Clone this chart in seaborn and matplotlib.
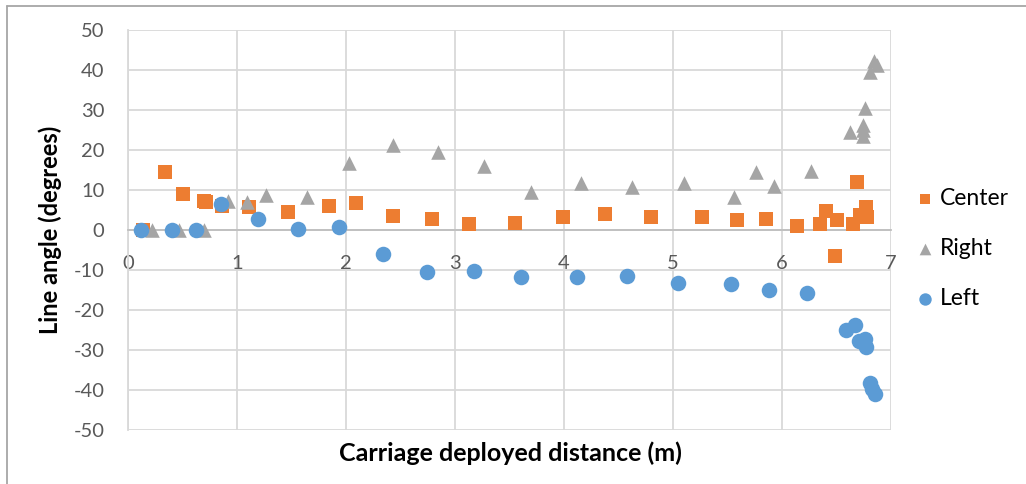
import matplotlib
matplotlib.use("Agg")
import matplotlib.pyplot as plt
import seaborn as sns
import pandas as pd
from matplotlib.lines import Line2D

center_x = [0.14, 0.34, 0.50, 0.70, 0.72, 0.86, 1.11, 1.47, 1.84, 2.09, 2.43, 2.79, 3.13,
            3.55, 3.99, 4.38, 4.80, 5.27, 5.59, 5.85, 6.14, 6.35, 6.40, 6.49, 6.50, 6.65,
            6.69, 6.72, 6.77, 6.78]
center_y = [0.0, 14.5, 9.0, 7.2, 7.0, 6.0, 5.7, 4.5, 6.0, 6.7, 3.5, 2.8, 1.5,
            1.8, 3.3, 4.0, 3.3, 3.3, 2.5, 2.7, 1.1, 1.5, 4.7, -6.5, 2.5, 1.5,
            12.0, 3.7, 5.7, 3.2]

right_x = [0.22, 0.47, 0.70, 0.92, 1.09, 1.27, 1.64, 2.03, 2.43, 2.84, 3.27, 3.70, 4.16,
           4.62, 5.10, 5.56, 5.76, 5.93, 6.27, 6.62, 6.74, 6.74, 6.74, 6.76, 6.81, 6.84, 6.87]
right_y = [0.0, 0.0, 0.0, 7.2, 7.0, 8.8, 8.3, 16.7, 21.2, 19.5, 16.0, 9.5, 11.7,
           10.8, 11.7, 8.3, 14.5, 11.0, 14.8, 24.5, 26.3, 23.5, 25.0, 30.5, 39.5, 42.2, 41.3]

left_x = [0.12, 0.40, 0.62, 0.85, 1.19, 1.56, 1.94, 2.34, 2.74, 3.17, 3.61, 4.12, 4.58,
          5.05, 5.53, 5.88, 6.23, 6.59, 6.67, 6.71, 6.76, 6.77, 6.81, 6.83, 6.85]
left_y = [0.0, 0.0, 0.0, 6.5, 2.7, 0.2, 0.7, -6.0, -10.5, -10.3, -11.7, -11.7, -11.5,
          -13.3, -13.5, -15.0, -15.8, -25.0, -23.8, -27.7, -27.3, -29.2, -38.3, -39.7, -41.0]

series_names = ["Center", "Right", "Left"]
colors = {"Center": "#ED7D31", "Right": "#A5A5A5", "Left": "#5B9BD5"}
markers = {"Center": "s", "Right": "^", "Left": "o"}
sizes = {"Center": 95, "Right": 110, "Left": 125}

x_ticks = [0, 1, 2, 3, 4, 5, 6, 7]
y_ticks = [-50, -40, -30, -20, -10, 0, 10, 20, 30, 40, 50]

df = pd.concat([
    pd.DataFrame({"x": center_x, "y": center_y, "series": "Center"}),
    pd.DataFrame({"x": right_x, "y": right_y, "series": "Right"}),
    pd.DataFrame({"x": left_x, "y": left_y, "series": "Left"}),
], ignore_index=True)

sns.set_theme(style="white")
plt.rcParams["font.family"] = ["Lato", "DejaVu Sans"]

fig = plt.figure(figsize=(10.26, 4.84), dpi=100)
ax = fig.add_axes([128 / 1026, 1 - 430 / 484, (891 - 128) / 1026, 400 / 484])

for name in series_names:
    sub = df[df["series"] == name]
    sns.scatterplot(data=sub, x="x", y="y", ax=ax, color=colors[name], marker=markers[name],
                    s=sizes[name], linewidth=0, label=name, zorder=3)

ax.set_xlim(0, 7)
ax.set_ylim(-50, 50)
ax.set_xticks(x_ticks)
ax.set_yticks(y_ticks)
ax.set_xticklabels([str(t) for t in x_ticks])
ax.set_yticklabels([str(t) for t in y_ticks])
ax.grid(True, color="#d9d9d9", linewidth=1.3, zorder=0)
ax.set_axisbelow(True)

for s in ["top", "right"]:
    ax.spines[s].set_visible(False)
ax.spines["left"].set_color("#d9d9d9")
ax.spines["left"].set_linewidth(1.3)
ax.spines["bottom"].set_position(("data", 0))
ax.spines["bottom"].set_color("#bfbfbf")
ax.spines["bottom"].set_linewidth(1.3)

ax.tick_params(axis="both", length=0, labelsize=14.5, colors="#595959")
ax.tick_params(axis="x", pad=18)
ax.tick_params(axis="y", pad=17)

ax.set_xlabel("")
ax.set_ylabel("")
fig.text(510 / 1026, 1 - 453 / 484, "Carriage deployed distance (m)", ha="center", va="center",
         fontsize=18, fontweight="bold", color="#000000")
fig.text(50 / 1026, 1 - 230 / 484, "Line angle (degrees)", ha="center", va="center",
         rotation=90, fontsize=17, fontweight="bold", color="#000000")

leg = ax.legend(loc="upper left", bbox_to_anchor=(901 / 1026, 1 - 177 / 484),
                bbox_transform=fig.transFigure, frameon=False, fontsize=16.5,
                labelspacing=1.25, handletextpad=0.1, handlelength=1.1, borderpad=0,
                markerscale=0.8)
for t in leg.get_texts():
    t.set_color("#000000")

fig.add_artist(Line2D([7 / 1026, 7 / 1026], [0, 1 - 6 / 484], transform=fig.transFigure,
                      color="#a6a6a6", linewidth=1.3))
fig.add_artist(Line2D([7 / 1026, 1], [1 - 6 / 484, 1 - 6 / 484], transform=fig.transFigure,
                      color="#a6a6a6", linewidth=1.3))

fig.savefig("out.png", dpi=100)
